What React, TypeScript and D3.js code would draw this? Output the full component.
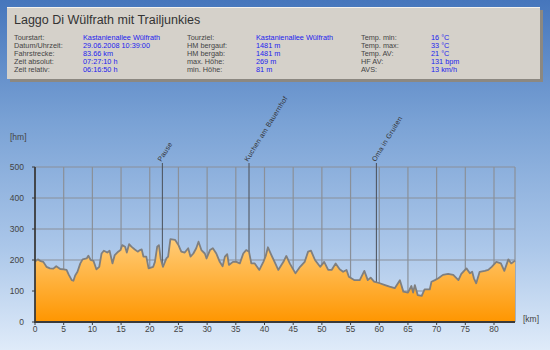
import React from "react";
import * as d3 from "d3";

const kmValues = [0,0.5,1.0,1.45,2.0,2.6,3.2,3.7,4.4,5.0,5.5,5.9,6.4,6.7,7.0,7.4,7.9,8.3,9.0,9.3,9.7,10.2,10.7,11.2,11.6,12.0,12.6,13.0,13.5,13.9,14.5,14.9,15.2,15.7,16.0,16.4,16.8,17.4,17.9,18.3,18.6,18.9,19.4,19.8,20.6,20.9,21.3,21.6,21.9,22.3,22.9,23.2,23.6,24.4,25.0,25.5,26.1,26.7,27.1,27.6,28.1,28.5,29.0,29.6,29.9,30.5,31.0,31.6,32.2,32.7,33.1,33.5,33.8,34.5,35.1,35.7,36.3,36.8,37.3,37.7,38.3,39.1,39.8,40.2,40.6,41.2,41.8,42.4,43.3,43.8,44.4,45.4,46.2,47.0,47.6,48.1,48.8,49.7,50.4,51.1,51.7,52.4,53.1,53.7,54.3,54.7,55.7,56.6,57.4,58.0,58.5,59.1,60.1,61.0,61.8,62.7,63.6,64.2,65.0,65.6,65.9,66.2,66.7,67.4,67.9,68.8,69.1,69.7,70.3,71.1,72.0,72.9,73.8,74.3,75.2,75.8,76.2,76.5,76.9,77.5,78.4,79.0,79.6,80.4,81.2,81.8,82.5,83.0,83.66];
const elevValues = [195,202,196,194,178,173,172,180,171,170,168,152,135,133,150,162,189,202,205,214,200,197,170,178,221,230,224,230,189,216,227,232,248,243,224,251,243,234,227,232,234,211,211,173,178,194,243,248,205,178,205,211,267,265,248,227,224,238,211,221,238,259,232,221,205,232,238,221,194,180,211,219,184,194,194,189,221,232,227,189,189,168,194,212,241,216,192,168,194,213,189,157,178,194,227,230,200,178,194,168,168,189,170,162,168,146,135,135,165,135,143,130,125,119,114,109,135,98,95,116,95,119,87,84,105,105,130,135,141,152,155,152,135,155,173,157,162,141,125,162,165,168,178,194,189,165,202,189,198];

const xTicks = [0,5,10,15,20,25,30,35,40,45,50,55,60,65,70,75,80];
const yTicks = [0,100,200,300,400,500];

const markerNames = ["Pause", "Kuchen am Bauernhof", "Oma in Gruiten"];
const markerKm = [22.2, 37.3, 59.5];

const title = "Laggo Di Wülfrath mit Trailjunkies";
const infoLabels1 = ["Tourstart:", "Datum/Uhrzeit:", "Fahrstrecke:", "Zeit absolut:", "Zeit relativ:"];
const infoValues1 = ["Kastanienallee Wülfrath", "29.06.2008 10:39:00", "83.66 km", "07:27:10 h", "06:16:50 h"];
const infoLabels2 = ["Tourziel:", "HM bergauf:", "HM bergab:", "max. Höhe:", "min. Höhe:"];
const infoValues2 = ["Kastanienallee Wülfrath", "1481 m", "1481 m", "269 m", "81 m"];
const infoLabels3 = ["Temp. min:", "Temp. max:", "Temp. AV:", "HF AV:", "AVS:"];
const infoValues3 = ["16 °C", "33 °C", "21 °C", "131 bpm", "13 km/h"];

const W = 550, H = 350;
const X0 = 35, X1 = 515, Y0 = 322, Y1 = 167;

export default function App() {
  const x = d3.scaleLinear().domain([0, 83.66]).range([X0, X1]);
  const y = d3.scaleLinear().domain([0, 500]).range([Y0, Y1]);
  const pts = kmValues.map((k, i) => [k, elevValues[i]] as [number, number]);
  const area = d3.area<[number, number]>().x(d => x(d[0])).y0(y(0)).y1(d => y(d[1]));
  const line = d3.line<[number, number]>().x(d => x(d[0])).y(d => y(d[1]));
  const font = "'Liberation Sans', Arial, sans-serif";
  const rowsY = [40, 48, 56, 64, 72];
  const cols = [
    { lx: 14, vx: 83, labels: infoLabels1, values: infoValues1 },
    { lx: 187, vx: 256, labels: infoLabels2, values: infoValues2 },
    { lx: 361, vx: 431, labels: infoLabels3, values: infoValues3 },
  ];
  return (
    <svg width={W} height={H} style={{ position: "absolute", left: 0, top: 0 }} fontFamily={font}>
      <defs>
        <linearGradient id="bg" x1="0" y1="0" x2="0" y2="1">
          <stop offset="0" stopColor="#4676bc" />
          <stop offset="0.35" stopColor="#7aa2d5" />
          <stop offset="0.7" stopColor="#aac6e9" />
          <stop offset="1" stopColor="#dfebf9" />
        </linearGradient>
        <linearGradient id="fill" gradientUnits="userSpaceOnUse" x1="0" y1={y(270)} x2="0" y2={Y0}>
          <stop offset="0" stopColor="#ffcd7a" />
          <stop offset="1" stopColor="#ff9600" />
        </linearGradient>
      </defs>
      <rect x={0} y={0} width={W} height={H} fill="url(#bg)" />
      {/* info panel */}
      <rect x={10} y={10} width={533} height={72} fill="#8c8881" />
      <rect x={7} y={7} width={533} height={72} fill="#d5d1ca" />
      <line x1={7} y1={7.5} x2={540} y2={7.5} stroke="#f4f2ee" />
      <text x={14} y={24} fontSize={12.5} fill="#333">{title}</text>
      {cols.map((c, ci) => (
        <g key={ci} fontSize={7.3}>
          {c.labels.map((l, i) => (
            <text key={"l" + i} x={c.lx} y={rowsY[i]} fill="#444">{l}</text>
          ))}
          {c.values.map((v, i) => (
            <text key={"v" + i} x={c.vx} y={rowsY[i]} fill="#2222ee">{v}</text>
          ))}
        </g>
      ))}
      {/* grid */}
      {yTicks.filter(t => t > 0).map(t => (
        <line key={"gy" + t} x1={X0} x2={X1} y1={y(t)} y2={y(t)} stroke="#8a9099" strokeWidth={1.2} />
      ))}
      {xTicks.filter(t => t > 0).map(t => (
        <line key={"gx" + t} x1={x(t)} x2={x(t)} y1={Y1} y2={Y0} stroke="#8a9099" strokeWidth={1.2} />
      ))}
      <line x1={X1} x2={X1} y1={Y1} y2={Y0} stroke="#8a9099" strokeWidth={1.2} />
      {/* markers */}
      {markerKm.map((k, i) => (
        <g key={"m" + i}>
          <line x1={x(k)} x2={x(k)} y1={Y1 - 4} y2={Y0} stroke="#4a4f57" strokeWidth={1} />
          <text transform={`translate(${x(k) - 1},${Y1 - 5}) rotate(-58)`} fontSize={7} fill="#333" letterSpacing={0.3}>{markerNames[i]}</text>
        </g>
      ))}
      {/* area */}
      <path d={area(pts) || ""} fill="url(#fill)" />
      <path d={line(pts) || ""} fill="none" stroke="#7f7f7f" strokeWidth={1.8} strokeLinejoin="round" />
      {/* axes */}
      <line x1={X0} x2={X0} y1={Y1} y2={Y0 + 1} stroke="#3a3a3a" strokeWidth={1.8} />
      <line x1={X0} x2={X1} y1={Y0} y2={Y0} stroke="#3a3a3a" strokeWidth={1.8} />
      {yTicks.map(t => (
        <g key={"ty" + t}>
          <line x1={X0 - 3} x2={X0} y1={y(t)} y2={y(t)} stroke="#3a3a3a" />
          <text x={24} y={y(t) + 3} fontSize={8.5} fill="#444" textAnchor="end">{t}</text>
        </g>
      ))}
      {xTicks.map(t => (
        <g key={"tx" + t}>
          <line x1={x(t)} x2={x(t)} y1={Y0} y2={Y0 + 3} stroke="#3a3a3a" />
          <text x={x(t)} y={Y0 + 10} fontSize={8.5} fill="#444" textAnchor="middle">{t}</text>
        </g>
      ))}
      <text x={10} y={140} fontSize={8.5} fill="#444">[hm]</text>
      <text x={523} y={322} fontSize={8.5} fill="#444">[km]</text>
    </svg>
  );
}
